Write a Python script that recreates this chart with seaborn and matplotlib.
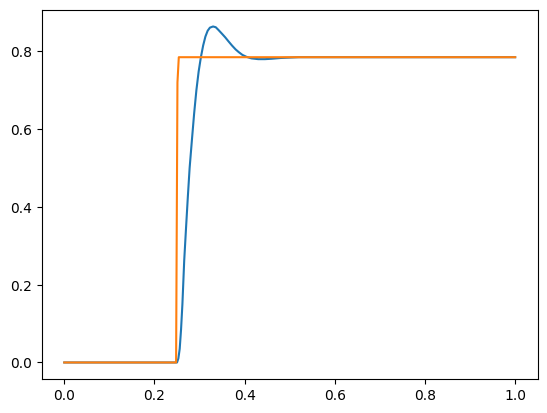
"""Step response vs. reference step."""

import matplotlib
matplotlib.use("Agg")
import matplotlib.pyplot as plt
import seaborn as sns

# response (blue)
resp_t = [0.0, 0.250, 0.253, 0.256, 0.259, 0.262, 0.266, 0.270, 0.274, 0.278,
          0.283, 0.288, 0.293, 0.298, 0.303, 0.308, 0.313, 0.318, 0.323, 0.330,
          0.336, 0.342, 0.350, 0.357, 0.364, 0.372, 0.380, 0.387, 0.395, 0.404,
          0.415, 0.430, 0.445, 0.460, 0.480, 0.520, 1.0]
resp_y = [0.0, 0.0, 0.010, 0.035, 0.085, 0.150, 0.262, 0.345, 0.425, 0.500,
          0.571, 0.640, 0.700, 0.748, 0.785, 0.815, 0.838, 0.853, 0.861, 0.864,
          0.862, 0.855, 0.845, 0.836, 0.826, 0.815, 0.805, 0.798, 0.791, 0.786,
          0.782, 0.780, 0.780, 0.781, 0.783, 0.785, 0.785]

# reference step (orange)
step_t = [0.0, 0.248, 0.251, 0.254, 1.0]
step_y = [0.0, 0.0, 0.72, 0.785, 0.785]

fig, ax = plt.subplots(figsize=(6.4, 4.8), dpi=100)
sns.lineplot(x=resp_t, y=resp_y, ax=ax, color="#1f77b4", linewidth=1.5)
sns.lineplot(x=step_t, y=step_y, ax=ax, color="#ff7f0e", linewidth=1.5)

fig.savefig("out.png", dpi=100, bbox_inches="tight")
